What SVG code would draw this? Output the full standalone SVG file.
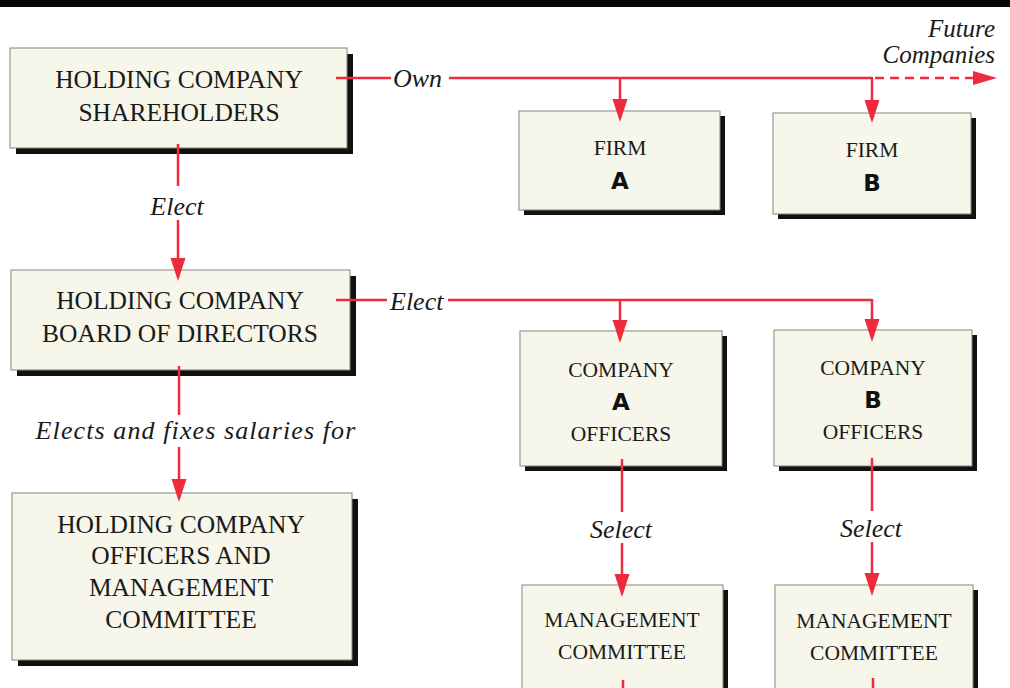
<svg xmlns="http://www.w3.org/2000/svg" width="1010" height="688" viewBox="0 0 1010 688">
<defs>
<style>
.box{fill:#f7f6ea;stroke:#85857c;stroke-width:1}
.sh{fill:#111}
.t{font-family:"Liberation Serif",serif;fill:#1a1a1a;text-anchor:middle}
.big{font-size:25.5px}
.sm{font-size:21.5px}
.let{font-family:"DejaVu Sans","Liberation Sans",sans-serif;font-weight:bold;font-size:23px;fill:#111;text-anchor:middle}
.lbl{font-family:"Liberation Serif",serif;font-style:italic;font-size:26px;fill:#1a1a1a}
.fc{font-family:"Liberation Serif",serif;font-style:italic;font-size:25px;fill:#1a1a1a;text-anchor:end}
.c{stroke:#ee2b3b;stroke-width:2.5;fill:none}
.ca{stroke:#ee2b3b;stroke-width:2.5;fill:none;marker-end:url(#ah)}
.d{stroke:#ee2b3b;stroke-width:2.5;fill:none;stroke-dasharray:9 6}
</style>
<marker id="ah" markerUnits="userSpaceOnUse" markerWidth="24" markerHeight="16" refX="19" refY="7.5" orient="auto">
<path d="M0,0 L23,7.5 L0,15 z" fill="#ee2b3b"/>
</marker>
</defs>
<rect x="0" y="0" width="1010" height="688" fill="#ffffff"/>
<rect x="0" y="0" width="1010" height="7" fill="#080808"/>

<g id="shareholders">
<rect class="sh" x="16" y="54" width="337" height="100"/>
<rect class="box" x="10" y="48" width="337" height="100"/>
<text class="t big" x="179" y="88">HOLDING COMPANY</text>
<text class="t big" x="179" y="121">SHAREHOLDERS</text>
</g>
<g id="board">
<rect class="sh" x="17" y="276" width="339" height="100"/>
<rect class="box" x="11" y="270" width="339" height="100"/>
<text class="t big" x="180" y="309">HOLDING COMPANY</text>
<text class="t big" x="180" y="342">BOARD OF DIRECTORS</text>
</g>
<g id="officers">
<rect class="sh" x="18" y="499" width="340" height="167"/>
<rect class="box" x="12" y="493" width="340" height="167"/>
<text class="t big" x="181" y="533">HOLDING COMPANY</text>
<text class="t big" x="181" y="564">OFFICERS AND</text>
<text class="t big" x="181" y="596">MANAGEMENT</text>
<text class="t big" x="181" y="628">COMMITTEE</text>
</g>
<g id="firmA">
<rect class="sh" x="524" y="116" width="201" height="99"/>
<rect class="box" x="519" y="111" width="201" height="99"/>
<text class="t sm" x="620" y="155">FIRM</text>
<text class="let" x="620" y="189">A</text>
</g>
<g id="firmB">
<rect class="sh" x="778" y="118" width="198" height="101"/>
<rect class="box" x="773" y="113" width="198" height="101"/>
<text class="t sm" x="872" y="157">FIRM</text>
<text class="let" x="872" y="191">B</text>
</g>
<g id="companyA">
<rect class="sh" x="525" y="336" width="202" height="135"/>
<rect class="box" x="520" y="331" width="202" height="135"/>
<text class="t sm" x="621" y="377">COMPANY</text>
<text class="let" x="621" y="410">A</text>
<text class="t sm" x="621" y="441">OFFICERS</text>
</g>
<g id="companyB">
<rect class="sh" x="779" y="335" width="198" height="136"/>
<rect class="box" x="774" y="330" width="198" height="136"/>
<text class="t sm" x="873" y="375">COMPANY</text>
<text class="let" x="873" y="408">B</text>
<text class="t sm" x="873" y="439">OFFICERS</text>
</g>
<g id="mgmtA">
<rect class="sh" x="527" y="590" width="201" height="110"/>
<rect class="box" x="522" y="585" width="201" height="110"/>
<text class="t sm" x="622" y="627">MANAGEMENT</text>
<text class="t sm" x="622" y="659">COMMITTEE</text>
</g>
<g id="mgmtB">
<rect class="sh" x="780" y="590" width="198" height="110"/>
<rect class="box" x="775" y="585" width="198" height="110"/>
<text class="t sm" x="874" y="628">MANAGEMENT</text>
<text class="t sm" x="874" y="660">COMMITTEE</text>
</g>

<g id="connectors">
<line class="c" x1="336" y1="78" x2="391" y2="78"/>
<line class="c" x1="449" y1="78" x2="872" y2="78"/>
<line class="d" x1="875" y1="78" x2="978" y2="78"/>
<path d="M973,71 L997,78 L973,85 z" fill="#ee2b3b"/>
<line class="ca" x1="620" y1="77" x2="620" y2="118"/>
<line class="ca" x1="872" y1="77" x2="872" y2="119"/>
<text class="lbl" x="393" y="87">Own</text>
<text class="fc" x="995" y="37">Future</text>
<text class="fc" x="995" y="63">Companies</text>

<line class="c" x1="178" y1="144" x2="178" y2="186"/>
<line class="ca" x1="178" y1="220" x2="178" y2="277"/>
<text class="lbl" x="177" y="215" text-anchor="middle">Elect</text>

<line class="c" x1="336" y1="300" x2="387" y2="300"/>
<line class="c" x1="448" y1="300" x2="872" y2="300"/>
<line class="ca" x1="620" y1="299" x2="620" y2="339"/>
<line class="ca" x1="872" y1="299" x2="872" y2="338"/>
<text class="lbl" x="390" y="310">Elect</text>

<line class="c" x1="179" y1="366" x2="179" y2="415"/>
<line class="ca" x1="179" y1="447" x2="179" y2="498"/>
<text class="lbl" x="196" y="439" text-anchor="middle" letter-spacing="1.1">Elects and fixes salaries for</text>

<line class="c" x1="622" y1="459" x2="622" y2="512"/>
<line class="ca" x1="622" y1="543" x2="622" y2="593"/>
<text class="lbl" x="621" y="538" text-anchor="middle">Select</text>
<line class="c" x1="872" y1="458" x2="872" y2="511"/>
<line class="ca" x1="872" y1="542" x2="872" y2="592"/>
<text class="lbl" x="871" y="537" text-anchor="middle">Select</text>

<line class="c" x1="623" y1="680" x2="623" y2="688"/>
<line class="c" x1="873" y1="678" x2="873" y2="688"/>
</g>
</svg>
